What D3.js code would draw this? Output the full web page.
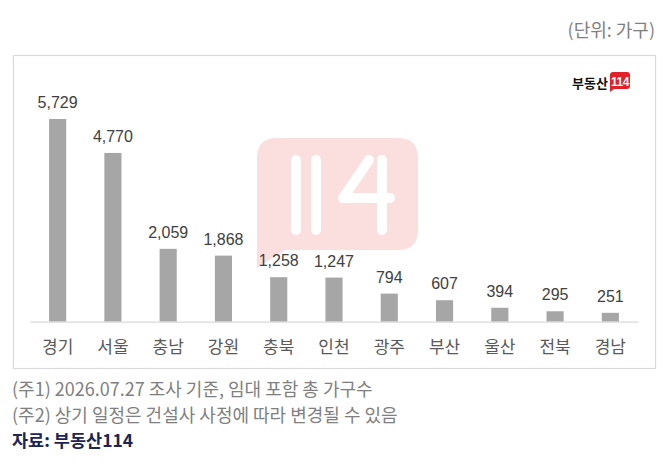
<!DOCTYPE html>
<html>
<head>
  <meta charset="utf-8">
  <script src="https://d3js.org/d3.v7.min.js"></script>
  <style>
    body { margin: 0; background: #fff; }
    svg { display: block; }
  </style>
</head>
<body>
<script>
  // 지역별 입주 예정 물량 (가구)
  var regions = ["경기", "서울", "충남", "강원", "충북", "인천", "광주", "부산", "울산", "전북", "경남"];
  var households = [5729, 4770, 2059, 1868, 1258, 1247, 794, 607, 394, 295, 251];
  var notes = [
    "(주1) 2026.07.27 조사 기준, 임대 포함 총 가구수",
    "(주2) 상기 일정은 건설사 사정에 따라 변경될 수 있음"
  ];
  var source = "자료: 부동산114";
  var unit = "(단위: 가구)";

  var data = regions.map(function (r, i) { return { region: r, value: households[i] }; });

  var W = 670, H = 464;
  var baseY = 321.7;
  var kr = "'Noto Sans CJK KR', 'Noto Sans', sans-serif";

  var svg = d3.select("body").append("svg")
    .attr("width", W)
    .attr("height", H);

  // unit label
  svg.append("text")
    .attr("x", 655)
    .attr("y", 37)
    .attr("text-anchor", "end")
    .style("font-family", kr)
    .style("font-size", "18px")
    .style("fill", "#7f7f7f")
    .text(unit);

  // chart frame
  svg.append("rect")
    .attr("x", 13.5)
    .attr("y", 55.5)
    .attr("width", 642)
    .attr("height", 313)
    .attr("fill", "#fff")
    .attr("stroke", "#d9d9d9")
    .attr("stroke-width", 1.2);

  // big watermark logo
  var wm = svg.append("g");
  wm.append("path")
    .attr("d", "M277,138 H398 Q418,138 418,158 V230 Q418,250 398,250 H285 L257,268 V158 Q257,138 277,138 Z")
    .attr("fill", "#fbdfdf");
  var strokes = [
    "M296,160 V230",
    "M316,160 V230",
    "M369,160 L343,198 H390",
    "M382,160 V230"
  ];
  wm.selectAll("path.s")
    .data(strokes)
    .enter()
    .append("path")
    .attr("class", "s")
    .attr("d", function (d) { return d; })
    .attr("fill", "none")
    .attr("stroke", "#fff")
    .attr("stroke-width", 10)
    .attr("stroke-linecap", "round")
    .attr("stroke-linejoin", "round");

  // small logo top right
  svg.append("text")
    .attr("x", 608)
    .attr("y", 88)
    .attr("text-anchor", "end")
    .style("font-family", kr)
    .style("font-weight", "bold")
    .style("font-size", "13px")
    .style("fill", "#111")
    .text("부동산");
  svg.append("path")
    .attr("d", "M613,72 H627 Q630,72 630,75 V86 Q630,89 627,89 H614 L610,92 V75 Q610,72 613,72 Z")
    .attr("fill", "#e3202a");
  svg.append("text")
    .attr("x", 620)
    .attr("y", 86)
    .attr("text-anchor", "middle")
    .style("font-family", "'Liberation Sans', Arial, sans-serif")
    .style("font-weight", "bold")
    .style("font-size", "12px")
    .style("letter-spacing", "-0.5px")
    .style("fill", "#fff")
    .text("114");

  // scales
  var x = d3.scaleBand()
    .domain(regions)
    .range([30, 638])
    .paddingInner(0.69)
    .paddingOuter(0.345);

  var y = d3.scaleLinear()
    .domain([0, 6000])
    .range([baseY, baseY - 6000 * 0.03538]);

  // bars
  svg.selectAll("rect.bar")
    .data(data)
    .enter()
    .append("rect")
    .attr("class", "bar")
    .attr("x", function (d) { return x(d.region); })
    .attr("y", function (d) { return y(d.value); })
    .attr("width", x.bandwidth())
    .attr("height", function (d) { return baseY - y(d.value); })
    .attr("fill", "#a6a6a6");

  // value labels
  svg.selectAll("text.val")
    .data(data)
    .enter()
    .append("text")
    .attr("class", "val")
    .attr("x", function (d) { return x(d.region) + x.bandwidth() / 2; })
    .attr("y", function (d) { return y(d.value) - 11; })
    .attr("text-anchor", "middle")
    .style("font-family", "'Liberation Sans', Arial, sans-serif")
    .style("font-size", "16px")
    .style("fill", "#404040")
    .text(function (d) { return d3.format(",")(d.value); });

  // category axis
  var axis = svg.append("g")
    .attr("transform", "translate(0," + baseY + ")")
    .call(d3.axisBottom(x).tickSize(0).tickPadding(19));
  axis.select(".domain")
    .attr("stroke", "#d9d9d9")
    .attr("stroke-width", 1.3);
  axis.selectAll("text")
    .style("font-family", kr)
    .style("font-size", "17px")
    .style("fill", "#595959");

  // footnotes
  svg.selectAll("text.note")
    .data(notes)
    .enter()
    .append("text")
    .attr("class", "note")
    .attr("x", 12)
    .attr("y", function (d, i) { return 396 + i * 26; })
    .style("font-family", kr)
    .style("font-size", "18px")
    .style("fill", "#7f7f7f")
    .text(function (d) { return d; });

  svg.append("text")
    .attr("x", 12)
    .attr("y", 447)
    .style("font-family", kr)
    .style("font-weight", "bold")
    .style("font-size", "17.5px")
    .style("fill", "#1b2656")
    .text(source);
</script>
</body>
</html>
